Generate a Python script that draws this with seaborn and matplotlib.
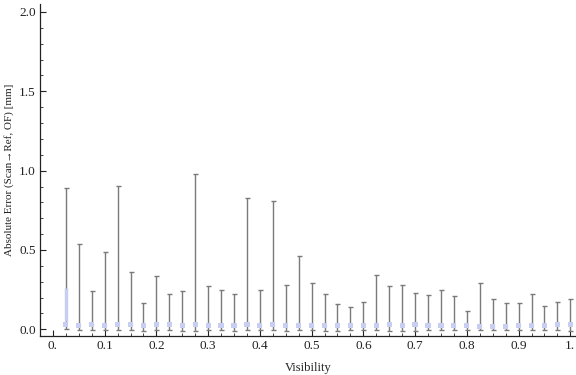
import numpy as np
import pandas as pd
import matplotlib
matplotlib.use("Agg")
import matplotlib.pyplot as plt
import seaborn as sns
from matplotlib.ticker import MultipleLocator, FixedLocator, FormatStrFormatter

sns.set_style("white")
plt.rcParams['font.family'] = ['Liberation Serif', 'DejaVu Serif']

visibility = [0.025 * k for k in range(1, 41)]
upper = [0.89, 0.535, 0.24, 0.49, 0.905, 0.36, 0.165, 0.335, 0.22, 0.24,
         0.98, 0.27, 0.245, 0.22, 0.83, 0.25, 0.81, 0.28, 0.465, 0.295,
         0.22, 0.157, 0.14, 0.175, 0.34, 0.27, 0.28, 0.23, 0.215, 0.245,
         0.21, 0.113, 0.29, 0.19, 0.163, 0.163, 0.22, 0.15, 0.17, 0.19]
lower = [0.0, -0.005, -0.005, -0.005, -0.005, -0.005, -0.01, -0.005, -0.005, -0.01,
         -0.01, -0.005, -0.005, -0.01, -0.005, -0.005, -0.005, -0.01, -0.005, -0.005,
         -0.01, -0.01, -0.005, -0.005, -0.005, -0.01, -0.01, -0.01, -0.005, -0.005,
         -0.005, -0.005, -0.005, -0.005, -0.005, -0.005, -0.005, -0.005, -0.005, -0.01]
mean = [0.03, 0.025, 0.028, 0.025, 0.03, 0.028, 0.025, 0.03, 0.03, 0.025,
        0.03, 0.025, 0.025, 0.025, 0.028, 0.025, 0.028, 0.023, 0.025, 0.023,
        0.023, 0.023, 0.025, 0.023, 0.025, 0.028, 0.025, 0.028, 0.025, 0.025,
        0.025, 0.023, 0.02, 0.02, 0.02, 0.023, 0.025, 0.022, 0.028, 0.028]
spread_lo = [0.05] + [m - 0.005 for m in mean[1:]]
spread_hi = [0.26] + [m + 0.005 for m in mean[1:]]

df = pd.DataFrame({"Visibility": visibility, "mean": mean,
                   "lower": lower, "upper": upper})

fig = plt.figure(figsize=(5.76, 3.75), dpi=100)
ax = fig.add_axes([40/576, 39/375, 536/576, 332/375])

yerr = np.array([df["mean"] - df["lower"], df["upper"] - df["mean"]])
ax.errorbar(df["Visibility"], df["mean"], yerr=yerr, fmt="none",
            ecolor="#7a7a7a", elinewidth=1.0, capsize=1.8, capthick=1.0, zorder=2)
ax.vlines(df["Visibility"], spread_lo, spread_hi, colors="#c8cdf2", linewidth=2.5, zorder=3)
sns.scatterplot(data=df, x="Visibility", y="mean", ax=ax, marker="s", s=14,
                color="#c8cdf2", edgecolor="none", zorder=4, legend=False)

ax.set_xlim(-0.025, 1.011)
ax.set_ylim(-0.042, 2.05)
ax.xaxis.set_major_locator(FixedLocator([i / 10 for i in range(11)]))
ax.set_xticklabels(["0.", "0.1", "0.2", "0.3", "0.4", "0.5", "0.6", "0.7", "0.8", "0.9", "1."])
ax.xaxis.set_minor_locator(MultipleLocator(0.025))
ax.yaxis.set_major_locator(MultipleLocator(0.5))
ax.yaxis.set_minor_locator(MultipleLocator(0.1))
ax.yaxis.set_major_formatter(FormatStrFormatter("%.1f"))

ax.tick_params(axis="both", which="major", direction="in", length=4, width=0.8,
               labelsize=9.5, labelcolor="#222222", color="#222222", pad=3)
ax.tick_params(axis="both", which="minor", direction="in", length=2, width=0.6, color="#222222")
ax.tick_params(bottom=True, left=True, which="both")

for s in ["top", "right"]:
    ax.spines[s].set_visible(False)
for s in ["left", "bottom"]:
    ax.spines[s].set_color("#222222")
    ax.spines[s].set_linewidth(0.9)

ax.set_xlabel("Visibility", fontsize=9, color="#222222", labelpad=7)
ax.set_ylabel("Absolute Error (Scan\u2192Ref, OF) [mm]", fontsize=8, color="#222222", labelpad=4)
ax.grid(False)

fig.savefig("out.png", dpi=100)
